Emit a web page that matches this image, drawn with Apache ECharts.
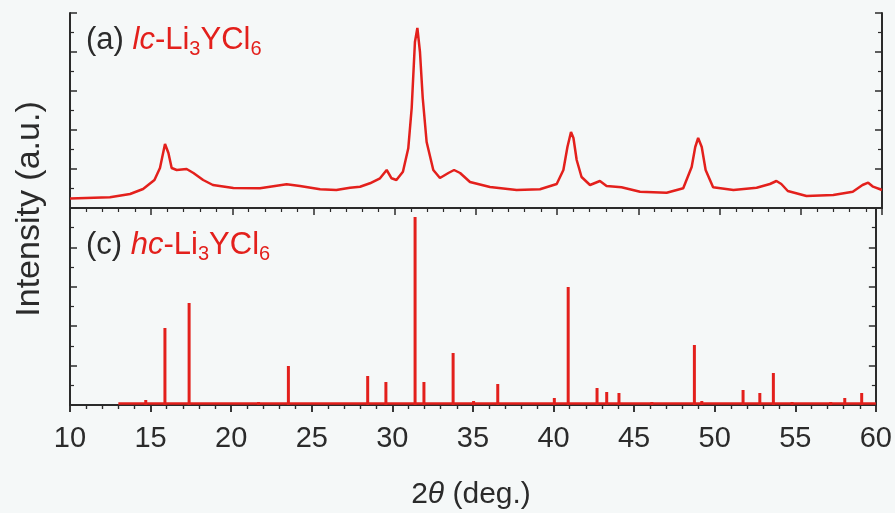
<!DOCTYPE html>
<html>
<head>
<meta charset="utf-8">
<script src="https://cdn.jsdelivr.net/npm/echarts@6/dist/echarts.min.js"></script>
<style>
html, body { margin: 0; padding: 0; background: #f5f8f8; }
#chart { width: 895px; height: 513px; }
</style>
</head>
<body>
<div id="chart"></div>
<script>
const chartDom = document.querySelector('#chart')
let xrdChart = echarts.init(chartDom)

const lcAngle = [10.0, 12.46, 13.7, 14.5, 15.2, 15.54, 15.85, 16.06, 16.26, 16.57, 17.18, 17.6, 18.2, 18.8,
    20.06, 21.7, 23.34, 24.16, 25.4, 26.4, 27.24, 27.86, 28.47, 29.09, 29.5, 29.8, 30.1, 30.5, 30.83,
    31.04, 31.24, 31.39, 31.55, 31.72, 31.96, 32.37, 32.78, 33.3, 33.65, 34.02, 34.63, 35.86, 37.5,
    38.94, 39.97, 40.38, 40.63, 40.85, 41.0, 41.2, 41.5, 42.02, 42.63, 43.04, 43.96, 45.1, 46.74,
    47.76, 48.28, 48.5, 48.68, 48.9, 49.14, 49.6, 50.85, 52.28, 53.1, 53.5, 53.8, 54.2, 55.35, 57.0,
    58.2, 58.8, 59.15, 59.45, 60.0]
const lcIntensity = [9.5, 10.7, 14, 19, 28, 40, 64, 55, 40, 38, 39, 35, 28, 23,
    20, 19.7, 23.7, 22, 18.7, 18, 20.3, 21.3, 24.7, 29.7, 38, 29.7, 28, 36.3, 59.7,
    100, 166, 180, 156, 110, 66, 38, 30, 35, 38, 35, 26, 21, 18,
    18.7, 24, 38, 61, 76, 70, 48, 31, 23, 27, 22, 20.7, 16.3, 15.3,
    19.7, 41, 61, 70, 61, 38, 20.7, 18, 20.3, 24, 27, 24, 17, 12, 13,
    16.3, 23, 25.3, 21.3, 18]

// (c) hc-Li3YCl6, stick pattern
const hcAngle = [14.7, 15.89, 17.39, 21.7, 23.55, 28.47, 29.6, 31.41, 31.96, 33.77, 35.04, 36.54,
    40.05, 40.91, 42.7, 43.3, 44.06, 46.1, 48.74, 49.2, 51.76, 52.8, 53.64, 54.8, 57.2, 58.07, 59.12]
const hcIntensity = [5, 77, 102, 3, 39, 29, 23, 188, 23, 52, 4, 21,
    7, 118, 17, 13, 12, 3, 60, 4, 15, 12, 32, 3, 3, 7, 12]
const hcBaseAngle = [13, 60]
const hcBaseIntensity = [1.5, 1.5]

const xMin = 10
const xMax = 60
const xStep = 5

const red = '#e3201c'
const ink = '#2b2b2b'
const font = "'Liberation Sans', Arial, sans-serif"

function pairs(xs, ys) {
    return xs.map((x, i) => [x, ys[i]])
}

function frameX(gridIndex, position, showTicks, inside, showLabels) {
    return {
        type: 'value',
        gridIndex: gridIndex,
        position: position,
        min: xMin,
        max: xMax,
        interval: xStep,
        axisLine: { show: true, lineStyle: { color: ink, width: 2 } },
        axisTick: { show: showTicks, inside: inside, length: 7, lineStyle: { color: ink, width: 1.5 } },
        minorTick: { show: showTicks, splitNumber: 5, length: 4, lineStyle: { color: ink, width: 1.2 } },
        axisLabel: { show: showLabels, color: ink, fontSize: 29, fontFamily: font, margin: 19 },
        splitLine: { show: false },
        minorSplitLine: { show: false }
    }
}

function frameY(gridIndex, position, max) {
    return {
        type: 'value',
        gridIndex: gridIndex,
        position: position,
        min: 0,
        max: max,
        interval: max / 5,
        axisLine: { show: true, lineStyle: { color: ink, width: 2 } },
        axisTick: { show: true, inside: true, length: 7, lineStyle: { color: ink, width: 1.5 } },
        minorTick: { show: true, splitNumber: 2, length: 4, lineStyle: { color: ink, width: 1.2 } },
        axisLabel: { show: false },
        splitLine: { show: false }
    }
}

function panelLabel(tag, phase, top) {
    return {
        type: 'text',
        left: 86,
        top: top,
        style: {
            text: '{k|' + tag + ' }{i|' + phase + '}{r|-Li}{s|3}{r|YCl}{s|6}',
            rich: {
                k: { fill: ink, fontSize: 31, fontFamily: font, lineHeight: 38 },
                i: { fill: red, fontSize: 31, fontStyle: 'italic', fontFamily: font, lineHeight: 38 },
                r: { fill: red, fontSize: 31, fontFamily: font, lineHeight: 38 },
                s: { fill: red, fontSize: 20, fontFamily: font, lineHeight: 38, verticalAlign: 'bottom' }
            }
        }
    }
}

let option = {
    backgroundColor: '#f5f8f8',
    animation: false,
    grid: [
        { left: 70, right: 13, top: 13, height: 195 },
        { left: 70, right: 13, top: 208, height: 197 }
    ],
    xAxis: [
        frameX(0, 'bottom', false, true, false),
        frameX(0, 'top', true, true, false),
        frameX(1, 'bottom', true, false, true),
        frameX(1, 'top', true, true, false)
    ],
    yAxis: [
        frameY(0, 'left', 195),
        frameY(0, 'right', 195),
        frameY(1, 'left', 197),
        frameY(1, 'right', 197)
    ],
    series: [
        {
            type: 'line',
            xAxisIndex: 0,
            yAxisIndex: 0,
            data: pairs(lcAngle, lcIntensity),
            showSymbol: false,
            lineStyle: { color: red, width: 2.5 }
        },
        {
            type: 'line',
            xAxisIndex: 2,
            yAxisIndex: 2,
            data: pairs(hcBaseAngle, hcBaseIntensity),
            showSymbol: false,
            lineStyle: { color: red, width: 2.5 }
        },
        {
            type: 'bar',
            xAxisIndex: 2,
            yAxisIndex: 2,
            data: pairs(hcAngle, hcIntensity),
            barWidth: 3,
            itemStyle: { color: red }
        }
    ],
    graphic: [
        panelLabel('(a)', 'lc', 25),
        panelLabel('(c)', 'hc', 230),
        {
            type: 'text',
            x: 30,
            y: 209,
            rotation: Math.PI / 2,
            style: {
                text: 'Intensity (a.u.)',
                fill: ink,
                font: "34px 'Liberation Sans', Arial, sans-serif",
                align: 'center',
                verticalAlign: 'middle'
            }
        },
        {
            type: 'text',
            x: 471,
            y: 495,
            style: {
                text: '{n|2}{t|θ}{n| (deg.)}',
                align: 'center',
                verticalAlign: 'middle',
                rich: {
                    n: { fill: ink, fontSize: 30, fontFamily: font },
                    t: { fill: ink, fontSize: 30, fontStyle: 'italic', fontFamily: font }
                }
            }
        }
    ]
}

xrdChart.setOption(option)
</script>
</body>
</html>
